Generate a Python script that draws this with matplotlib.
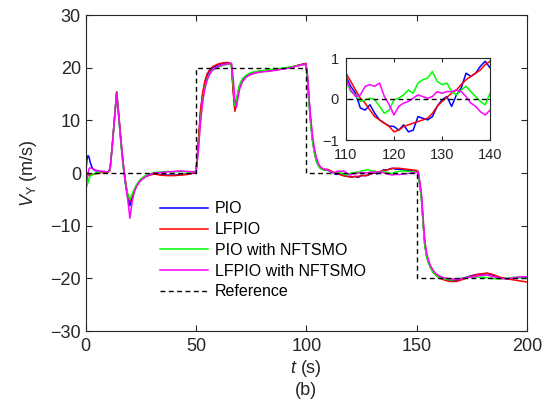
import numpy as np
import matplotlib
matplotlib.use("Agg")
import matplotlib.pyplot as plt

plt.rcParams['font.family'] = ['Liberation Sans', 'DejaVu Sans']
plt.rcParams['mathtext.fontset'] = 'custom'
plt.rcParams['mathtext.rm'] = 'Liberation Sans'
plt.rcParams['mathtext.it'] = 'Liberation Sans:italic'

# ---- data ----
t = [0, 0.5, 1, 1.5, 2, 3, 4, 5, 6, 8, 10, 11, 12, 13, 14, 15, 16, 17, 18, 19,
     20, 21, 22, 23, 24, 25, 27, 29, 31, 34, 37, 40, 43, 46, 49.5,
     50, 51, 52, 53, 54, 55, 56, 57, 58, 60, 62, 64, 66, 66.8, 67.6, 68.3, 69, 69.8,
     71, 72.5, 74, 76, 79, 83, 86, 89, 92, 95, 98, 99.8,
     100.5, 101.2, 102, 102.8, 103.6, 104.5, 105.5, 106.5, 107.5, 108.5, 109.3,
     110, 111, 112, 113, 114, 115, 116, 117, 118, 119, 120, 121, 122, 123, 124, 125,
     126, 127, 128, 129, 130, 131, 132, 133, 134, 135, 136, 137, 138, 139, 140,
     142, 144, 146, 148, 150, 150.7, 151.5, 152.2, 153, 153.7, 154.5, 155.3, 156.3,
     157.5, 159, 160.5, 162.5, 165, 168, 171, 174, 177, 180, 182, 184, 186, 188,
     191, 194, 197, 200]

pio = [0, 2.5, 3.3, 3.0, 2.0, 0.9, 0.5, 0.4, 0.3, 0.2, 0.1, 0.8, 5.3, 10.4, 15.4,
       10.5, 5.5, 1.2, -2.0, -4.5, -6.2, -4.6, -3.3, -2.4, -1.8, -1.3, -0.7, -0.3,
       -0.1, -0.3, -0.4, -0.4, -0.3, -0.2, 0.0,
       0.2, 5.5, 11.5, 15.0, 17.2, 18.5, 19.3, 19.8, 20.1, 20.5, 20.8, 20.9, 20.8,
       16.0, 12.0, 13.5, 15.3, 16.6, 17.6, 18.3, 18.7, 19.0, 19.3, 19.4, 19.6, 19.8,
       20.0, 20.3, 20.6, 20.8,
       18.0, 13.5, 9.3, 6.2, 4.0, 2.4, 1.4, 0.9, 0.7, 0.6, 0.6,
       0.55, 0.31, 0.14, -0.22, -0.27, -0.14, -0.35, -0.51, -0.59, -0.66, -0.67,
       -0.76, -0.63, -0.80, -0.76, -0.43, -0.47, -0.51, -0.43, -0.18, -0.02, 0.06,
       -0.18, 0.10, 0.27, 0.63, 0.55, 0.63, 0.80, 0.92, 0.76,
       0.7, 0.6, 0.5, 0.4, 0.4, 0.2, -2.3, -4.8, -9.8, -13.6, -15.7, -16.9, -17.9,
       -18.8, -19.4, -19.8, -20.2, -20.5, -20.4, -20.0, -19.6, -19.3, -19.2, -19.1,
       -19.3, -19.6, -19.9, -20.1, -20.0, -19.8, -19.8]

lfpio = [0, -0.3, -0.5, -0.4, -0.3, -0.3, -0.2, -0.1, 0.0, 0.1, 0.1, 0.5, 5.2, 10.3,
         15.4, 11.0, 6.0, 1.8, -1.5, -4.2, -5.3, -4.3, -3.2, -2.4, -1.8, -1.3, -0.7,
         -0.4, -0.2, -0.4, -0.5, -0.5, -0.4, -0.3, 0.1,
         0.3, 5.8, 11.8, 15.3, 17.5, 18.8, 19.5, 20.0, 20.3, 20.7, 20.9, 21.0, 20.7,
         15.5, 11.7, 13.2, 15.1, 16.5, 17.5, 18.2, 18.6, 18.9, 19.2, 19.4, 19.6, 19.8,
         20.0, 20.3, 20.6, 20.8,
         18.3, 13.9, 9.7, 6.5, 4.2, 2.5, 1.5, 1.0, 0.8, 0.7, 0.7,
         0.63, 0.43, 0.22, 0.02, -0.10, -0.27, -0.43, -0.51, -0.59, -0.67, -0.80,
         -0.76, -0.67, -0.63, -0.59, -0.55, -0.51, -0.47, -0.35, -0.18, -0.06, 0.04,
         0.14, 0.22, 0.35, 0.47, 0.55, 0.63, 0.71, 0.84, 0.92,
         0.9, 0.8, 0.7, 0.6, 0.5, 0.3, -2.2, -4.7, -9.7, -13.5, -15.6, -16.8, -17.9,
         -18.8, -19.5, -20.0, -20.3, -20.6, -20.6, -20.2, -19.7, -19.3, -19.1, -19.0,
         -19.2, -19.5, -19.8, -20.1, -20.3, -20.5, -20.7]

pio_nftsmo = [0, -2.5, -1.8, -1.0, -0.6, -0.3, -0.1, 0.1, 0.2, 0.3, 0.2, 0.6, 5.2,
              10.3, 15.3, 10.3, 5.2, 1.0, -2.0, -4.0, -5.0, -4.0, -3.0, -2.2, -1.6,
              -1.1, -0.5, -0.2, 0.1, 0.2, 0.3, 0.2, 0.3, 0.2, 0.3,
              0.3, 4.5, 10.0, 13.8, 16.3, 17.8, 18.7, 19.3, 19.7, 20.1, 20.4, 20.6,
              20.6, 17.0, 12.8, 14.0, 15.6, 16.9, 17.9, 18.5, 18.9, 19.2, 19.4, 19.6,
              19.8, 19.9, 20.1, 20.3, 20.5, 20.6,
              18.0, 13.4, 9.2, 6.1, 3.9, 2.3, 1.3, 0.8, 0.6, 0.5, 0.5,
              0.43, 0.18, 0.10, -0.06, -0.02, 0.02, -0.02, -0.18, -0.35, -0.27, -0.02,
              0.02, 0.10, 0.22, 0.14, 0.39, 0.47, 0.51, 0.67, 0.43, 0.35, 0.39, 0.18,
              0.10, 0.22, 0.31, 0.18, 0.06, -0.06, -0.14, 0.14,
              0.3, 0.4, 0.3, 0.2, 0.2, 0.0, -2.5, -5.0, -10.0, -13.8, -15.8, -17.0,
              -18.0, -18.9, -19.5, -19.9, -20.1, -20.3, -20.2, -19.9, -19.8, -19.7,
              -19.8, -19.9, -20.0, -20.1, -20.1, -20.0, -19.8, -19.9, -20.0]

lfpio_nftsmo = [0, -1.5, 0.0, 0.8, 1.0, 0.8, 0.6, 0.5, 0.4, 0.3, 0.2, 0.7, 5.0,
                10.0, 15.2, 10.5, 5.8, 1.6, -2.0, -5.0, -8.6, -5.5, -3.6, -2.6, -1.9,
                -1.4, -0.7, -0.3, 0.0, 0.1, 0.2, 0.3, 0.4, 0.3, 0.2,
                0.2, 4.0, 9.5, 13.5, 16.0, 17.6, 18.6, 19.3, 19.7, 20.2, 20.5, 20.7,
                20.8, 18.2, 14.0, 12.5, 14.2, 16.0, 17.3, 18.1, 18.6, 18.9, 19.2, 19.3,
                19.5, 19.7, 19.9, 20.2, 20.5, 20.7,
                18.8, 14.6, 10.4, 7.2, 4.8, 3.0, 1.8, 1.1, 0.8, 0.6, 0.6,
                0.51, 0.22, 0.06, 0.10, 0.31, 0.35, 0.31, 0.39, 0.06, -0.14, -0.39,
                -0.18, -0.10, -0.06, 0.02, 0.10, 0.06, 0.02, 0.06, 0.18, 0.14, 0.18,
                0.18, 0.22, 0.18, 0.06, -0.10, -0.18, -0.31, -0.39, -0.27,
                -0.3, -0.2, -0.1, 0.0, 0.1, 0.2, -1.8, -4.0, -8.8, -12.8, -15.0, -16.5,
                -17.6, -18.5, -19.2, -19.6, -19.9, -20.1, -20.2, -20.0, -19.8, -19.6,
                -19.4, -19.4, -19.6, -19.8, -20.0, -20.1, -19.9, -19.7, -19.7]

t_ref = [0, 50, 50, 100, 100, 150, 150, 200]
v_ref = [0, 0, 20, 20, 0, 0, -20, -20]

labels = ['PIO', 'LFPIO', 'PIO with NFTSMO', 'LFPIO with NFTSMO', 'Reference']
colors = ['#0000ff', '#ff0000', '#00ff00', '#ff00ff']

series = [pio, lfpio, pio_nftsmo, lfpio_nftsmo]
for s in series:
    assert len(s) == len(t), (len(s), len(t))

axcol = '#262626'
fs = 13
lw = 1.1
fig = plt.figure(figsize=(5.5, 4.0), dpi=100)
ax = fig.add_axes([0.156, 0.1725, 0.802, 0.79])

for s, c, lab in zip(series, colors, labels[:4]):
    ax.plot(t, s, color=c, lw=lw, label=lab)
ax.plot(t_ref, v_ref, color='black', lw=1.0, ls=(0, (3.5, 2.5)), label=labels[4])

ax.set_xlim(0, 200)
ax.set_ylim(-30, 30)
ax.set_xticks([0, 50, 100, 150, 200])
ax.set_yticks([-30, -20, -10, 0, 10, 20, 30])
ax.tick_params(direction='in', top=True, right=True, length=4, width=0.8,
               labelsize=fs, colors=axcol)
ax.tick_params(axis='x', pad=5)
ax.tick_params(axis='y', pad=3.5)
for sp in ax.spines.values():
    sp.set_color(axcol)
    sp.set_linewidth(0.8)
ax.set_xlabel('$t$ (s)', fontsize=fs, color=axcol, labelpad=2)
ax.set_ylabel('$V_{\\mathrm{Y}}$ (m/s)', fontsize=fs, color=axcol, labelpad=8)
fig.text(0.557, 0.024, '(b)', ha='center', va='center', fontsize=fs, color=axcol)

leg = ax.legend(loc='upper left', bbox_to_anchor=(0.168, 0.41), frameon=False,
                fontsize=11.5, handlelength=3.0, handletextpad=0.45,
                labelspacing=0.36, borderaxespad=0, borderpad=0)

# inset
axi = fig.add_axes([0.629, 0.65, 0.262, 0.205])
for s, c in zip(series, colors):
    axi.plot(t, s, color=c, lw=lw)
axi.plot(t_ref, v_ref, color='black', lw=1.0, ls=(0, (3.5, 2.5)))
axi.set_xlim(110, 140)
axi.set_ylim(-1, 1)
axi.set_xticks([110, 120, 130, 140])
axi.set_yticks([-1, 0, 1])
axi.tick_params(direction='in', top=True, right=True, length=3, width=0.8,
                labelsize=10.5, colors=axcol)
axi.tick_params(axis='x', pad=6)
axi.tick_params(axis='y', pad=5)
for sp in axi.spines.values():
    sp.set_color(axcol)
    sp.set_linewidth(0.8)

fig.savefig('out.png', dpi=100)
